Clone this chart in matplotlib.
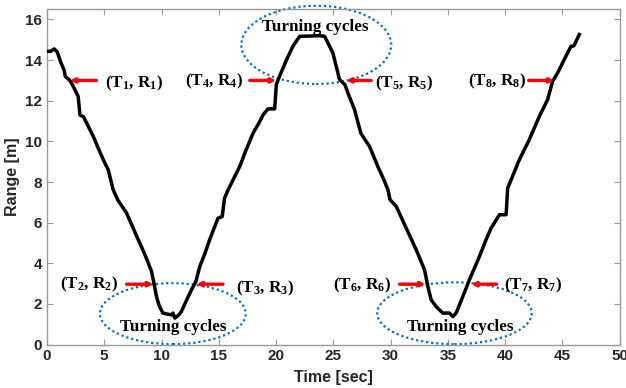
import matplotlib
matplotlib.use('Agg')
import matplotlib.pyplot as plt
from matplotlib.patches import Ellipse

# range vs time
tiempo = [0.0, 0.3, 0.64, 0.9, 1.2, 1.5, 1.6, 2.0, 2.3, 2.73, 2.88, 3.2, 4.04, 4.6,
          5.0, 5.35, 5.78, 6.2, 6.95, 7.4, 7.84, 8.5, 9.13, 9.35, 9.56, 9.8, 10.12,
          10.5, 10.87, 11.0, 11.16, 11.5, 11.74, 12.2, 12.62, 13.0, 13.34, 13.8, 14.2,
          14.93, 15.3, 15.5, 15.8, 16.24, 16.83, 17.4, 17.99, 18.5, 18.86, 19.3, 19.88,
          20.02, 20.3, 20.9, 21.47, 22.06, 23.8, 24.24, 24.96, 25.54, 26.0, 26.4, 26.85,
          27.4, 28.16, 28.88, 29.47, 29.76, 29.95, 30.49, 31.36, 32.23, 32.96, 33.25,
          33.54, 33.97, 34.55, 35.13, 35.43, 35.72, 36.3, 36.88, 37.75, 38.33, 38.77,
          39.5, 40.08, 40.22, 41.24, 42.1, 42.98, 43.7, 44.14, 44.58, 45.16, 45.74,
          46.0, 46.47]
rango = [14.43, 14.43, 14.55, 14.4, 13.9, 13.5, 13.2, 13.0, 12.7, 12.2, 11.3, 11.2, 10.25, 9.5,
         9.0, 8.6, 7.62, 7.1, 6.47, 5.9, 5.32, 4.5, 3.6, 3.0, 2.36, 1.9, 1.55,
         1.5, 1.46, 1.55, 1.30, 1.45, 1.63, 2.2, 2.7, 3.1, 3.84, 4.5, 5.16,
         6.22, 6.3, 7.2, 7.6, 8.1, 8.77, 9.6, 10.4, 10.9, 11.3, 11.6, 11.6,
         12.79, 13.2, 14.0, 14.68, 15.17, 15.2, 15.17, 14.35, 13.04, 12.8, 12.2, 11.56,
         10.4, 9.75, 8.77, 8.03, 7.62, 7.13, 6.8, 5.73, 4.67, 3.68, 2.86,
         2.2, 1.87, 1.55, 1.55, 1.38, 1.55, 2.36, 3.19, 4.33, 5.16, 5.73,
         6.39, 6.39, 7.7, 9.1, 10.08, 11.23, 12.05, 12.96, 13.37, 14.03, 14.68,
         14.7, 15.26]

# arrow labels: text, arrow tail (t, r), arrow head (t, r), text position, alignment
etiquetas = ['(T$_1$, R$_1$)', '(T$_2$, R$_2$)', '(T$_3$, R$_3$)', '(T$_4$, R$_4$)',
             '(T$_5$, R$_5$)', '(T$_6$, R$_6$)', '(T$_7$, R$_7$)', '(T$_8$, R$_8$)']
flecha_cola = [(4.33, 13.0), (6.95, 2.97), (15.37, 2.97), (17.7, 13.0),
               (28.3, 13.0), (30.78, 2.97), (39.26, 2.97), (42.05, 13.0)]
flecha_punta = [(2.0, 13.0), (9.27, 2.97), (13.05, 2.97), (20.0, 13.0),
                (26.13, 13.0), (33.04, 2.97), (37.03, 2.97), (44.3, 13.0)]
texto_pos = [(5.06, 12.85), (6.2, 2.97), (16.5, 2.74), (17.1, 12.95),
             (28.6, 12.85), (30.05, 2.92), (39.93, 2.92), (41.8, 12.95)]
texto_ha = ['left', 'right', 'left', 'right', 'left', 'right', 'left', 'right']

# turning-cycle ellipses: center, width, height, text position
elipse_centro = [(23.51, 14.75), (10.99, 1.52), (35.57, 1.54)]
elipse_ancho = [13.08, 12.73, 13.49]
elipse_alto = [3.85, 3.0, 3.04]
giro_texto = [(23.46, 15.62), (11.0, 0.86), (36.12, 0.84)]

plt.rcParams['mathtext.fontset'] = 'custom'
plt.rcParams['mathtext.rm'] = 'Liberation Serif:bold'
plt.rcParams['mathtext.it'] = 'Liberation Serif:bold'
plt.rcParams['mathtext.bf'] = 'Liberation Serif:bold'

fig = plt.figure(figsize=(6.26, 3.88), dpi=100)
ax = fig.add_axes([0.075, 0.112, 0.915, 0.864])

ax.plot(tiempo, rango, color='black', lw=2.5, zorder=3)

for i in range(len(etiquetas)):
    ax.annotate('', xy=flecha_punta[i], xytext=flecha_cola[i],
                arrowprops=dict(arrowstyle='-|>', color='red', lw=2.4,
                                mutation_scale=6, shrinkA=0, shrinkB=0), zorder=4)
    ax.text(texto_pos[i][0], texto_pos[i][1], etiquetas[i], ha=texto_ha[i], va='center',
            fontsize=12.3, fontweight='bold', family='Liberation Serif')

for i in range(len(elipse_centro)):
    e = Ellipse(elipse_centro[i], elipse_ancho[i], elipse_alto[i], fill=False,
                edgecolor='#0072BD', lw=1.6, linestyle=(0, (1, 1.3)), clip_on=False,
                zorder=2)
    ax.add_patch(e)
    ax.text(giro_texto[i][0], giro_texto[i][1], 'Turning cycles', ha='center',
            va='center', fontsize=12.3, fontweight='bold', family='Liberation Serif',
            zorder=5)

ax.set_xlim(0, 50)
ax.set_ylim(0, 16.5)
ax.set_xticks(range(0, 51, 5))
ax.set_yticks(range(0, 17, 2))
ax.tick_params(direction='in', top=True, right=True, length=4, width=0.8,
               color='#999999', labelsize=11, labelcolor='#262626')
for lab in ax.get_xticklabels() + ax.get_yticklabels():
    lab.set_fontweight('bold')
    lab.set_family('Liberation Sans')
for s in ax.spines.values():
    s.set_color('#999999')
    s.set_linewidth(1.0)

ax.set_xlabel('Time [sec]', fontsize=11.5, fontweight='bold', family='Liberation Sans',
              color='#262626', labelpad=5)
ax.set_ylabel('Range [m]', fontsize=11.5, fontweight='bold', family='Liberation Sans',
              color='#262626', labelpad=4)

fig.savefig('out.png', dpi=100)
